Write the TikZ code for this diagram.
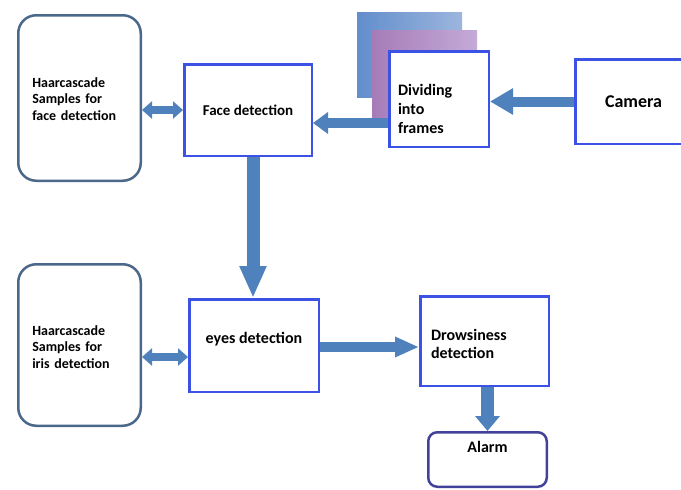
\documentclass[tikz,border=0pt]{standalone}
\usepackage{fontspec}
\setmainfont{Carlito}
\usetikzlibrary{arrows.meta}
\definecolor{arrowblue}{RGB}{79,129,189}
\definecolor{boxline}{RGB}{60,82,228}
\definecolor{haarline}{RGB}{74,104,138}
\definecolor{alarmline}{RGB}{66,66,156}
\definecolor{frameblueA}{RGB}{98,142,204}
\definecolor{frameblueB}{RGB}{156,181,222}
\definecolor{framepurpleA}{RGB}{166,124,184}
\definecolor{framepurpleB}{RGB}{196,170,216}

\begin{document}
\begin{tikzpicture}[x=1pt,y=-1pt,
  haarbox/.style={draw=haarline,line width=2.5pt,rounded corners=18pt,fill=white,
    inner xsep=14pt,inner ysep=0pt,text width=94.5pt,align=left,
    font=\fontsize{14}{16.5}\selectfont\bfseries},
  bluebox/.style={draw=boxline,line width=2.5pt,fill=white,inner ysep=0pt,
    font=\fontsize{15}{18}\selectfont\bfseries},
  flow/.style={arrowblue,line width=10pt},
  dbl/.style={arrowblue,line width=8pt,
    {Triangle[length=10pt,width=17pt]}-{Triangle[length=10pt,width=17pt]}}]
\useasboundingbox (0,0) rectangle (681,490);
\fill[white] (0,0) rectangle (681,490);

% stacked frames behind the dividing box
\node[minimum width=105pt,minimum height=85pt,inner sep=0pt,
  left color=frameblueA,right color=frameblueB] (frameA) at (409.5,54.5) {};
\node[minimum width=105pt,minimum height=90pt,inner sep=0pt,
  left color=framepurpleA,right color=framepurpleB] (frameB) at (424.5,75) {};

% boxes
\node[haarbox,text height=71.75pt,text depth=93.75pt] (haarface) at (79.5,98)
  {Haarcascade\\Samples for\\face detection};
\node[haarbox,text height=70.75pt,text depth=90.75pt] (haariris) at (79.5,345)
  {Haarcascade\\Samples for\\iris detection};
\node[bluebox,minimum width=127.5pt,minimum height=91.5pt] (face) at (248,110)
  {Face detection};
\node[bluebox,text width=82pt,inner xsep=8.75pt,align=left,
  text height=43.75pt,text depth=51.75pt,font=\fontsize{16}{19}\selectfont\bfseries]
  (divide) at (439,99) {Dividing\\into\\frames};
% camera box runs past the right edge
\node[bluebox,text width=100.5pt,inner xsep=29.75pt,align=left,minimum height=84.5pt,
  font=\fontsize{18}{21}\selectfont\bfseries] (camera) at (655.25,101.5) {Camera};
\node[bluebox,minimum width=129.5pt,text height=43.75pt,text depth=48.75pt,
  font=\fontsize{16}{19}\selectfont\bfseries] (eyes) at (254,345.5) {eyes detection};
\node[bluebox,text width=107pt,inner xsep=10.75pt,align=left,
  text height=43.75pt,text depth=45.75pt,font=\fontsize{16}{18}\selectfont\bfseries]
  (drowsy) at (484.5,341) {Drowsiness\\detection};
\node[bluebox,draw=alarmline,rounded corners=9pt,minimum width=118.5pt,
  text height=19.75pt,text depth=34.75pt,font=\fontsize{16}{19}\selectfont\bfseries]
  (alarm) at (487.5,459.5) {Alarm};

% connectors
\draw[dbl] (haarface.east |- face.west) -- (face.west);
\draw[dbl] (haariris.east |- 0,357) -- (eyes.west |- 0,357);
\draw[flow,-{Triangle[length=23pt,width=25pt]}] (camera.west) -- (camera.west -| divide.east);
\draw[flow,-{Triangle[length=15pt,width=21pt]}] (divide.west |- 0,123) -- (face.east |- 0,123);
\draw[flow,line width=13pt,-{Triangle[length=32pt,width=25pt]}]
  ([xshift=5pt]face.south) -- ([xshift=5pt]face.south |- eyes.north);
\draw[flow,-{Triangle[length=24pt,width=19pt]}] (eyes.east |- 0,347) -- (drowsy.west |- 0,347);
\draw[flow,line width=13pt,-{Triangle[length=15pt,width=24pt]}]
  (drowsy.south -| alarm.north) -- (alarm.north);
\end{tikzpicture}
\end{document}
